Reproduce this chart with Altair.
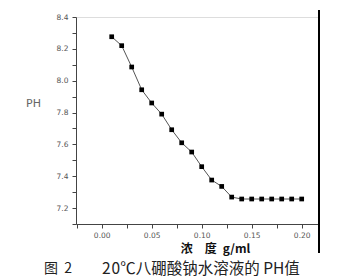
import altair as alt
import pandas as pd

conc = [0.01, 0.02, 0.03, 0.04, 0.05, 0.06, 0.07, 0.08, 0.09, 0.10,
        0.11, 0.12, 0.13, 0.14, 0.15, 0.16, 0.17, 0.18, 0.19, 0.20]
ph = [8.276, 8.22, 8.086, 7.943, 7.86, 7.79, 7.692, 7.61, 7.552, 7.46,
      7.376, 7.336, 7.269, 7.257, 7.257, 7.257, 7.257, 7.257, 7.257, 7.257]

x_ticks = [-0.025, 0.0, 0.025, 0.05, 0.075, 0.10, 0.125, 0.15, 0.175, 0.20]
y_ticks = [7.1, 7.2, 7.3, 7.4, 7.5, 7.6, 7.7, 7.8, 7.9, 8.0, 8.1, 8.2, 8.3, 8.4]

x_title = "浓\u3000度\u2002g/ml"
y_title = "PH"
caption_left = "图\u00a0\u00a02"
caption_right = "2\u200a0℃八硼酸钠水溶液的\u00a0PH值"

df = pd.DataFrame({"c": conc, "ph": ph})

W, H = 242, 207

xscale = alt.Scale(domain=[-0.0257, 0.2163], nice=False, zero=False)
yscale = alt.Scale(domain=[7.1, 8.4], nice=False, zero=False)

xaxis = alt.Axis(
    values=x_ticks,
    labelExpr="abs(datum.value*20 - round(datum.value*20)) < 0.001 ? format(datum.value, '.2f') : ''",
    grid=False, tickSize=4, tickColor="#444", domainColor="#444",
    labelFont="DejaVu Sans", labelFontSize=7.5, labelColor="#555", labelPadding=3,
    title=x_title, titleFont="Noto Sans CJK SC", titleFontWeight="bold",
    titleFontSize=12, titleColor="#111", titleX=139, titleY=24,
    titleAlign="center", titleBaseline="middle",
)
yaxis = alt.Axis(
    values=y_ticks,
    labelExpr="abs(datum.value*5 - round(datum.value*5)) < 0.001 ? format(datum.value, '.1f') : ''",
    grid=False, tickSize=4, tickColor="#444", domainColor="#444",
    labelFont="DejaVu Sans", labelFontSize=7.5, labelColor="#555", labelPadding=4,
    title=y_title, titleFont="DejaVu Sans", titleFontWeight="normal",
    titleFontSize=11, titleColor="#666", titleAngle=0, titleX=-43, titleY=86,
    titleAlign="center", titleBaseline="middle",
)

base = alt.Chart(df).encode(
    x=alt.X("c:Q", scale=xscale, axis=xaxis),
    y=alt.Y("ph:Q", scale=yscale, axis=yaxis),
)

line = base.mark_line(color="#555", strokeWidth=1)
pts = base.mark_point(shape="square", filled=True, color="#000", size=22, opacity=1)

frame = alt.Chart(pd.DataFrame({"a": [0]})).mark_rule(color="#000", strokeWidth=2).encode(
    x=alt.value(W + 1), y=alt.value(-7), y2=alt.value(H + 29)
)

cap1 = alt.Chart(pd.DataFrame({"t": [caption_left]})).mark_text(
    font="Noto Sans CJK SC", fontSize=14, color="#222", align="left", baseline="middle"
).encode(text="t:N", x=alt.value(-32), y=alt.value(H + 45))

cap2 = alt.Chart(pd.DataFrame({"t": [caption_right]})).mark_text(
    font="Noto Sans CJK SC", fontSize=15.5, color="#222", align="left", baseline="middle"
).encode(text="t:N", x=alt.value(26), y=alt.value(H + 45))

chart = alt.layer(line, pts, frame, cap1, cap2).properties(
    width=W, height=H,
    autosize=alt.AutoSizeParams(type="none"),
    padding={"left": 76, "top": 17, "right": 29, "bottom": 53},
).configure_view(stroke=None).configure(background="white")

chart.save("out.html", embed_options={"renderer": "svg", "actions": False})
